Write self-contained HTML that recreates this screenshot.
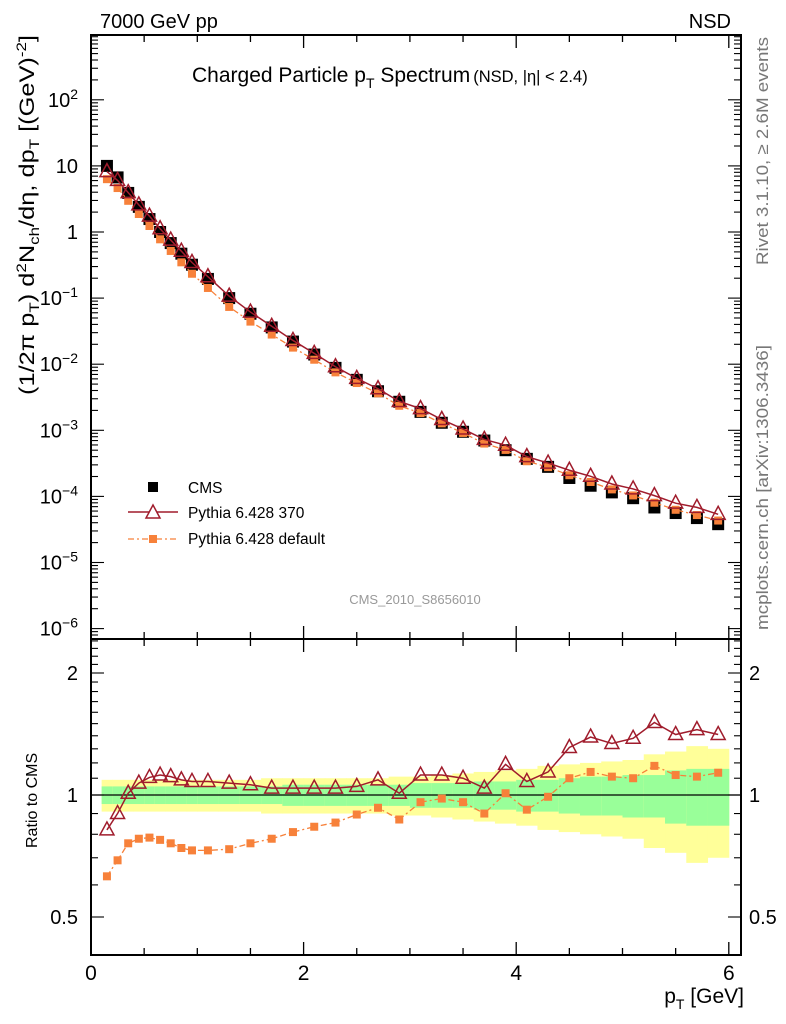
<!DOCTYPE html>
<html><head><meta charset="utf-8">
<style>
html,body{margin:0;padding:0;background:#fff;}
svg{display:block;font-family:"Liberation Sans",Arial,sans-serif;}
</style></head>
<body>
<svg id="chart" width="786" height="1024" viewBox="0 0 786 1024" xmlns="http://www.w3.org/2000/svg">
<g id="bands"></g>
<g id="marks"></g>
<g id="axes"></g>
<text x="100" y="28" font-size="20">7000 GeV pp</text>
<text x="731" y="28" font-size="20" text-anchor="end">NSD</text>
<text x="192" y="82" font-size="21">Charged Particle p<tspan font-size="14" dy="6">T</tspan><tspan dy="-6"> Spectrum</tspan><tspan font-size="16.5" dx="3">(NSD, |η| &lt; 2.4)</tspan></text>
<text transform="translate(34,395) rotate(-90)" font-size="21" textLength="360" lengthAdjust="spacingAndGlyphs">(1/2π p<tspan font-size="14" dy="5">T</tspan><tspan dy="-5">) d</tspan><tspan font-size="14" dy="-8">2</tspan><tspan dy="8">N</tspan><tspan font-size="14" dy="5">ch</tspan><tspan dy="-5">/dη, dp</tspan><tspan font-size="14" dy="5">T</tspan><tspan dy="-5"> [(GeV)</tspan><tspan font-size="14" dy="-8">-2</tspan><tspan dy="8">]</tspan></text>
<text transform="translate(37,848) rotate(-90)" font-size="16">Ratio to CMS</text>
<text x="744" y="1003" font-size="21" text-anchor="end">p<tspan font-size="14" dy="6">T</tspan><tspan dy="-6"> [GeV]</tspan></text>
<text transform="translate(768,265) rotate(-90)" font-size="17" fill="#777" textLength="228" lengthAdjust="spacingAndGlyphs">Rivet 3.1.10, ≥ 2.6M events</text>
<text transform="translate(768,630) rotate(-90)" font-size="17" fill="#777" textLength="285" lengthAdjust="spacingAndGlyphs">mcplots.cern.ch [arXiv:1306.3436]</text>
<text x="415" y="604" font-size="13" fill="#999" text-anchor="middle">CMS_2010_S8656010</text>
<g>
<rect x="148" y="482" width="10" height="10" fill="#000"/>
<text x="188" y="493" font-size="15.5">CMS</text>
<line x1="128" y1="512" x2="178" y2="512" stroke="#a01c2c" stroke-width="1.5"/>
<path d="M153,505 L160,518 L146,518 Z" fill="#fff" stroke="#a01c2c" stroke-width="1.5"/>
<text x="188" y="518" font-size="15.5">Pythia 6.428 370</text>
<line x1="128" y1="539" x2="178" y2="539" stroke="#f7813a" stroke-width="1.3" stroke-dasharray="6,3,2,3"/>
<rect x="149" y="535" width="8" height="8" fill="#f7813a"/>
<text x="188" y="544" font-size="15.5">Pythia 6.428 default</text>
</g>
</svg>
<script>
const pt = [0.15,0.25,0.35,0.45,0.55,0.65,0.75,0.85,0.95,1.1,1.3,1.5,1.7,1.9,2.1,2.3,2.5,2.7,2.9,3.1,3.3,3.5,3.7,3.9,4.1,4.3,4.5,4.7,4.9,5.1,5.3,5.5,5.7,5.9];
const binEdges = [0.1,0.2,0.3,0.4,0.5,0.6,0.7,0.8,0.9,1.0,1.2,1.4,1.6,1.8,2.0,2.2,2.4,2.6,2.8,3.0,3.2,3.4,3.6,3.8,4.0,4.2,4.4,4.6,4.8,5.0,5.2,5.4,5.6,5.8,6.0];
const cms = [10,6.7,3.9,2.4,1.57,1.0,0.68,0.47,0.32,0.195,0.1,0.058,0.036,0.022,0.014,0.0088,0.0058,0.0039,0.0027,0.0019,0.0013,0.00095,0.0007,0.0005,0.00037,0.00028,0.00019,0.000145,0.000115,0.000094,0.000068,0.000056,0.000047,0.000038];
const ratio370 = [0.82,0.90,1.01,1.07,1.105,1.12,1.11,1.09,1.08,1.08,1.07,1.06,1.04,1.04,1.04,1.04,1.05,1.09,1.01,1.12,1.12,1.10,1.04,1.19,1.08,1.14,1.31,1.39,1.34,1.38,1.51,1.41,1.45,1.41];
const ratioDefault = [0.63,0.69,0.76,0.78,0.785,0.775,0.76,0.74,0.73,0.73,0.735,0.76,0.78,0.81,0.835,0.855,0.895,0.93,0.87,0.96,0.98,0.96,0.90,1.01,0.92,0.99,1.10,1.14,1.11,1.10,1.18,1.12,1.11,1.135];
const errTotal = [0.09,0.09,0.09,0.09,0.09,0.09,0.09,0.09,0.09,0.09,0.09,0.09,0.10,0.10,0.10,0.10,0.10,0.10,0.11,0.11,0.12,0.13,0.14,0.15,0.16,0.18,0.19,0.20,0.21,0.22,0.26,0.28,0.32,0.30];
const errStat = [0.05,0.05,0.05,0.05,0.05,0.05,0.05,0.05,0.05,0.05,0.05,0.05,0.05,0.06,0.06,0.06,0.06,0.06,0.06,0.07,0.07,0.07,0.08,0.08,0.09,0.09,0.10,0.11,0.11,0.12,0.12,0.15,0.16,0.16];
const xTicks = [0,2,4,6];
const mainYTickBase = ["10","10","1","10","10","10","10","10","10"];
const mainYTickSup = ["2","","","−1","−2","−3","−4","−5","−6"];
const mainYTickExps = [2,1,0,-1,-2,-3,-4,-5,-6];
const ratioTicks = [0.5,1,2];

const NS="http://www.w3.org/2000/svg";
const L=91,R=741,MT=35,MB=639,RB=955;
const X=v=>L+v*106.3;
const YM=v=>232-Math.log10(v)*66.1;
const YR=v=>795-Math.log2(v)*122;
function mk(tag,attrs,parent){const e=document.createElementNS(NS,tag);for(const k in attrs)e.setAttribute(k,attrs[k]);parent.appendChild(e);return e;}
const bands=document.getElementById('bands'),marks=document.getElementById('marks'),axes=document.getElementById('axes');

for(let i=0;i<pt.length;i++){
  const x0=X(binEdges[i]),x1=X(binEdges[i+1]);
  const y=mk('rect',{x:x0,y:YR(1+errTotal[i]),width:x1-x0+0.5,height:YR(1-errTotal[i])-YR(1+errTotal[i]),fill:'#ffff99'},bands);
  
  
  const g=mk('rect',{x:x0,y:YR(1+errStat[i]),width:x1-x0+0.5,height:YR(1-errStat[i])-YR(1+errStat[i]),fill:'#99ff99'},bands);
  
  
}
mk('line',{x1:L,x2:R,y1:YR(1),y2:YR(1),stroke:'#000','stroke-width':1.3},bands);

function tri(x,y,parent,name){const p=mk('path',{d:`M${x},${y-8} L${x+7},${y+5} L${x-7},${y+5} Z`,fill:'none',stroke:'#a01c2c','stroke-width':1.5},parent);
  
  }
function sq(x,y,s,c,parent,name){const r=mk('rect',{x:x-s/2,y:y-s/2,width:s,height:s,fill:c},parent);
  
  }

const defMain=pt.map((p,i)=>cms[i]*ratioDefault[i]);
const p370Main=pt.map((p,i)=>cms[i]*ratio370[i]);
for(let i=0;i<pt.length;i++){sq(X(pt[i]),YM(cms[i]),12,'#000',marks,'cms-point');}
mk('polyline',{points:pt.map((p,i)=>X(p)+','+YM(defMain[i])).join(' '),fill:'none',stroke:'#f7813a','stroke-width':1.3,'stroke-dasharray':'6,3,2,3'},marks);
for(let i=0;i<pt.length;i++){sq(X(pt[i]),YM(defMain[i]),8,'#f7813a',marks,'default-point');}
mk('polyline',{points:pt.map((p,i)=>X(p)+','+YM(p370Main[i])).join(' '),fill:'none',stroke:'#a01c2c','stroke-width':1.5},marks);
for(let i=0;i<pt.length;i++){tri(X(pt[i]),YM(p370Main[i]),marks,'pythia370-point');}
mk('polyline',{points:pt.map((p,i)=>X(p)+','+YR(ratioDefault[i])).join(' '),fill:'none',stroke:'#f7813a','stroke-width':1.3,'stroke-dasharray':'6,3,2,3'},marks);
for(let i=0;i<pt.length;i++){sq(X(pt[i]),YR(ratioDefault[i]),8,'#f7813a',marks,'default-ratio-point');}
mk('polyline',{points:pt.map((p,i)=>X(p)+','+YR(ratio370[i])).join(' '),fill:'none',stroke:'#a01c2c','stroke-width':1.5},marks);
for(let i=0;i<pt.length;i++){tri(X(pt[i]),YR(ratio370[i]),marks,'pythia370-ratio-point');}

mk('rect',{x:L,y:MT,width:R-L,height:MB-MT,fill:'none',stroke:'#000','stroke-width':2},axes);
mk('rect',{x:L,y:MB,width:R-L,height:RB-MB,fill:'none',stroke:'#000','stroke-width':2},axes);
for(let v=0;v<=6.01;v+=0.5){
  const big=Math.abs(v-Math.round(v/2)*2)<0.01, len=big?13:7, x=X(v);
  for(const [y,d] of [[MT,1],[MB,-1],[MB,1],[RB,-1]]) mk('line',{x1:x,x2:x,y1:y,y2:y+d*len,stroke:'#000','stroke-width':1.3},axes);
}
xTicks.forEach(v=>{const t=mk('text',{x:X(v),y:980,'font-size':21,'text-anchor':'middle'},axes);t.textContent=v;
  
  });
for(let e=-7;e<=3;e++){for(let m=1;m<10;m++){const v=m*Math.pow(10,e),y=YM(v);if(y<MT+1||y>MB-1)continue;const len=m==1?13:7;
  mk('line',{x1:L,x2:L+len,y1:y,y2:y,stroke:'#000','stroke-width':1.1},axes);
  mk('line',{x1:R,x2:R-len,y1:y,y2:y,stroke:'#000','stroke-width':1.1},axes);}}
mainYTickExps.forEach((e,i)=>{const t=mk('text',{x:78,y:YM(Math.pow(10,e))+7,'font-size':20,'text-anchor':'end'},axes);
  
  
  const a=mk('tspan',{},t);a.textContent=mainYTickBase[i];
  if(mainYTickSup[i]){const b=mk('tspan',{'font-size':14,dy:-8},t);b.textContent=mainYTickSup[i];}
});
[0.4,0.5,0.6,0.7,0.8,0.9,1,1.1,1.2,1.3,1.4,1.5,1.6,1.7,1.8,1.9,2,2.1,2.2,2.3,2.4].forEach(v=>{const y=YR(v);if(y<MB+1||y>RB-1)return;const big=[0.5,1,2].includes(v),len=big?13:7;
  mk('line',{x1:L,x2:L+len,y1:y,y2:y,stroke:'#000','stroke-width':1.1},axes);
  mk('line',{x1:R,x2:R-len,y1:y,y2:y,stroke:'#000','stroke-width':1.1},axes);});
ratioTicks.forEach(v=>{const t=mk('text',{x:78,y:YR(v)+7,'font-size':20,'text-anchor':'end'},axes);t.textContent=v;
  
  
  const t2=mk('text',{x:749,y:YR(v)+7,'font-size':20},axes);t2.textContent=v;
  
  });
</script>
</body></html>
